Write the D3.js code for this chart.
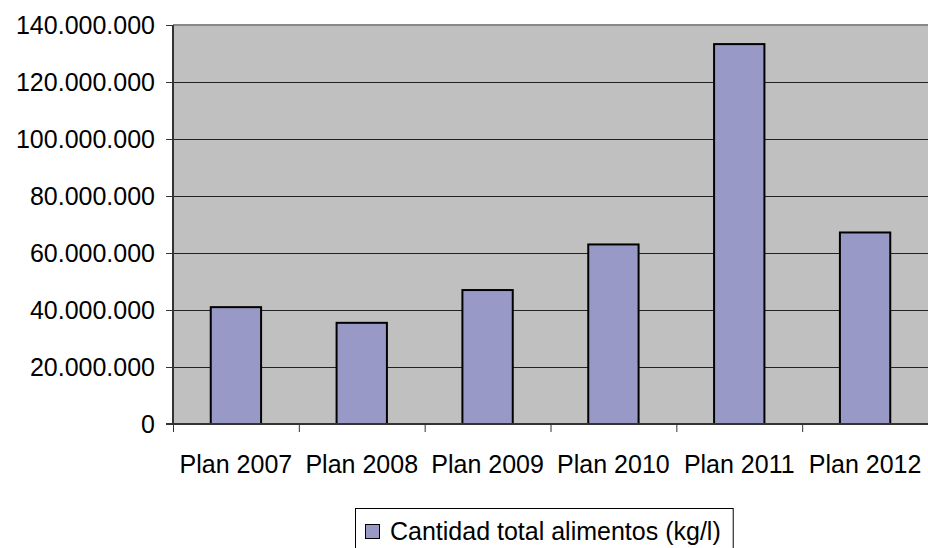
<!DOCTYPE html>
<html><head><meta charset="utf-8">
<script src="https://cdn.jsdelivr.net/npm/d3@7"></script>
<style>body{margin:0;background:#fff}svg{display:block}text{font-family:"Liberation Sans",Arial,sans-serif;fill:#000}</style>
</head><body><svg id="c" width="928" height="548"></svg>
<script>
const categories = ["Plan 2007","Plan 2008","Plan 2009","Plan 2010","Plan 2011","Plan 2012"];
const values = [41000000, 35500000, 47000000, 63000000, 133300000, 67200000];
const yTicks = [0,20000000,40000000,60000000,80000000,100000000,120000000,140000000];
const seriesName = "Cantidad total alimentos (kg/l)";

const svg = d3.select("#c");
const L = 173, R = 928, T = 25, B = 424;
const x = d3.scaleBand().domain(categories).range([L, R]).paddingInner(0).paddingOuter(0);
const y = d3.scaleLinear().domain([0, 140000000]).range([B, T]);
const fmt = v => v === 0 ? "0" : d3.format(",")(v).replace(/,/g, ".");

svg.append("rect").attr("x", L).attr("y", T).attr("width", R - L).attr("height", B - T).attr("fill", "#c0c0c0");

// gridlines
svg.append("g").selectAll("line").data(yTicks.filter(d => d > 0 && d < 140000000)).join("line")
  .attr("x1", L).attr("x2", R).attr("y1", d => Math.round(y(d)) + 0.5).attr("y2", d => Math.round(y(d)) + 0.5)
  .attr("stroke", "#222").attr("stroke-width", 1);
// top border
svg.append("line").attr("x1", L).attr("x2", R).attr("y1", T).attr("y2", T).attr("stroke", "#888").attr("stroke-width", 2);

// bars
const bw = x.bandwidth() * 0.4;
svg.append("g").selectAll("rect").data(values).join("rect")
  .attr("x", (d, i) => x(categories[i]) + (x.bandwidth() - bw) / 2)
  .attr("y", d => y(d))
  .attr("width", bw)
  .attr("height", d => B - y(d))
  .attr("fill", "#9999c8").attr("stroke", "#000").attr("stroke-width", 2);

// y axis
const yAxis = d3.axisLeft(y).tickValues(yTicks).tickFormat(fmt).tickSize(7).tickPadding(11);
const gy = svg.append("g").attr("transform", `translate(${L},0)`).call(yAxis);
gy.select(".domain").attr("stroke", "#333").attr("stroke-width", 2).attr("d", `M0,${T}V${B}`);
gy.selectAll(".tick line").attr("stroke", "#333");
gy.selectAll(".tick text").attr("font-size", 25).attr("font-family", "Liberation Sans, Arial, sans-serif").attr("dy", "0.32em").attr("fill", "#000");

// x axis
const gx = svg.append("g").attr("transform", `translate(0,${B})`);
gx.append("line").attr("x1", L - 7).attr("x2", R).attr("y1", 0).attr("y2", 0).attr("stroke", "#333").attr("stroke-width", 2);
const bounds = categories.map(c => x(c));
gx.selectAll("line.tk").data(bounds).join("line").attr("class", "tk")
  .attr("x1", d => d + 0.5).attr("x2", d => d + 0.5).attr("y1", 0).attr("y2", 8).attr("stroke", "#333");
gx.selectAll("text").data(categories).join("text")
  .attr("x", d => x(d) + x.bandwidth() / 2).attr("y", 49)
  .attr("text-anchor", "middle").attr("font-size", 25).text(d => d);

// legend
const lg = svg.append("g");
const lt = lg.append("text").attr("x", 390).attr("y", 540).attr("font-size", 25).text(seriesName);
const tw = lt.node().getComputedTextLength();
const boxW = (390 - 355) + tw + 12;
lg.insert("rect", "text").attr("x", 355.5).attr("y", 508.5).attr("width", boxW).attr("height", 60)
  .attr("fill", "#fff").attr("stroke", "#000").attr("stroke-width", 1);
lg.append("rect").attr("x", 365.5).attr("y", 524.5).attr("width", 14).attr("height", 14)
  .attr("fill", "#9999c8").attr("stroke", "#000").attr("stroke-width", 1);
</script></body></html>
